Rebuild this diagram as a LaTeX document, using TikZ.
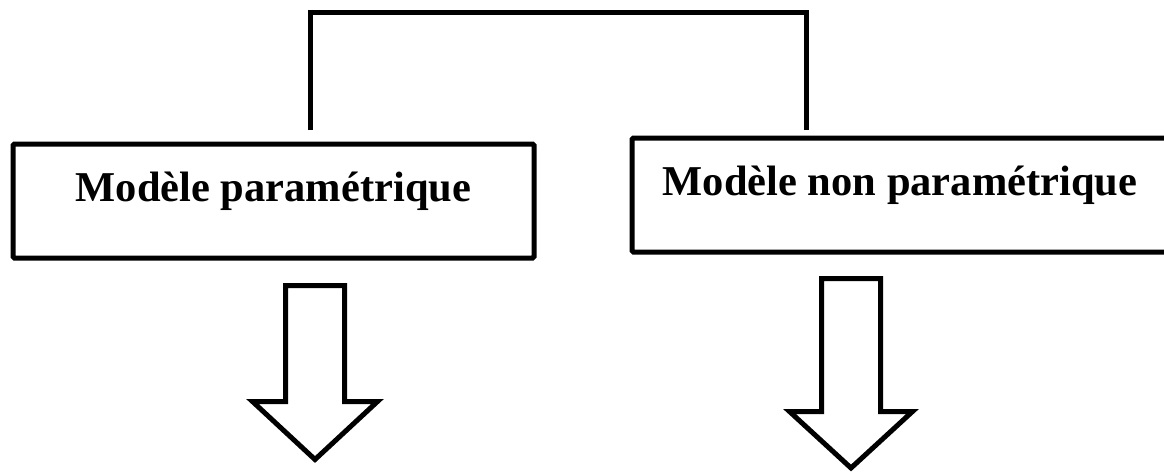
\documentclass[tikz,border=0pt]{standalone}
\usepackage{fontspec}
\setmainfont{Liberation Serif}
\begin{document}
\begin{tikzpicture}[x=1pt,y=-1pt,
  modelbox/.style={draw=black, line width=5pt, rectangle, rounded corners=1.5pt,
    minimum height=114pt, text height=30pt, text depth=30pt, inner sep=0pt,
    font=\fontsize{42.5}{50}\selectfont\bfseries},
  link/.style={draw=black, line width=5pt},
  blockarrow/.style={draw=black, line width=5pt, fill=white, line join=miter}]
\useasboundingbox (0,0) rectangle (1164,471);
\clip (0,0) rectangle (1164,471);

% the two model boxes
\node[modelbox, minimum width=521pt] (param) at (273.5,201) {Modèle paramétrique};
\node[modelbox, minimum width=536pt] (nonparam) at (900,195) {Modèle non paramétrique};

% bracket joining the two boxes from above
\coordinate (jl) at (310,130);
\coordinate (jr) at (806,130);
\draw[link] (jl) -- ++(0,-118) -| (jr);

% hollow block arrows below each box
\draw[blockarrow] (285.5,285.5) -- (344.5,285.5) -- (344.5,401.5) -- (377.5,401.5)
  -- (315,459.5) -- (252.5,401.5) -- (285.5,401.5) -- cycle;
\draw[blockarrow] (821.5,278.5) -- (880.5,278.5) -- (880.5,411.5) -- (912.5,411.5)
  -- (851,468) -- (789.5,411.5) -- (821.5,411.5) -- cycle;
\end{tikzpicture}
\end{document}
